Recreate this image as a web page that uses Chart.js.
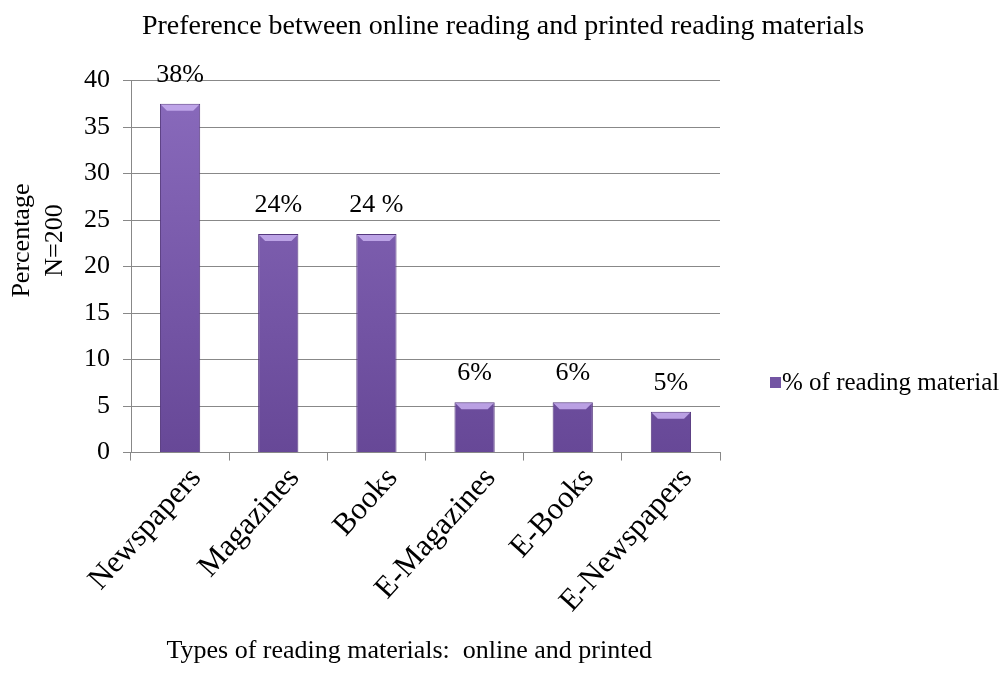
<!DOCTYPE html>
<html>
<head>
<meta charset="utf-8">
<script src="https://cdn.jsdelivr.net/npm/chart.js@4/dist/chart.umd.min.js"></script>
<style>
  body { margin: 0; background: #fff; }
  #wrap { width: 1004px; height: 675px; }
</style>
</head>
<body>
<div id="wrap"><canvas id="bar-chart"></canvas></div>
<script>
var categories = ["Newspapers", "Magazines", "Books", "E-Magazines", "E-Books", "E-Newspapers"];
var values = [37.5, 23.5, 23.5, 5.4, 5.4, 4.4];
var valueLabels = ["38%", "24%", "24 %", "6%", "6%", "5%"];
var yTicks = [0, 5, 10, 15, 20, 25, 30, 35, 40];
var seriesName = "% of reading material";

var serif = "'Liberation Serif', 'Times New Roman', serif";

// purple gradient for the bars, lighter at top
function barFill(context) {
  var chart = context.chart;
  var area = chart.chartArea;
  if (!area) return "#7355a3";
  var g = chart.ctx.createLinearGradient(0, area.top, 0, area.bottom);
  g.addColorStop(0, "#8a6bbd");
  g.addColorStop(1, "#674897");
  return g;
}

// value labels above bars + bevel highlight on bar tops
var barExtras = {
  id: "barExtras",
  afterDatasetsDraw: function (chart) {
    var ctx = chart.ctx;
    var meta = chart.getDatasetMeta(0);
    meta.data.forEach(function (bar, i) {
      var half = bar.width / 2;
      ctx.save();
      // top bevel
      ctx.fillStyle = "rgba(200,175,240,0.85)";
      ctx.beginPath();
      ctx.moveTo(bar.x - half + 1, bar.y + 1);
      ctx.lineTo(bar.x + half - 1, bar.y + 1);
      ctx.lineTo(bar.x + half - 7, bar.y + 7);
      ctx.lineTo(bar.x - half + 7, bar.y + 7);
      ctx.closePath();
      ctx.fill();
      ctx.font = "26px " + serif;
      ctx.fillStyle = "#000";
      ctx.textAlign = "center";
      ctx.textBaseline = "alphabetic";
      ctx.fillText(valueLabels[i], bar.x, bar.y - 22);
      ctx.restore();
    });
  }
};

// legend on the right side
var sideLegend = {
  id: "sideLegend",
  afterDraw: function (chart) {
    var ctx = chart.ctx;
    var x = 770, y = 383;
    ctx.save();
    ctx.fillStyle = "#7355a3";
    ctx.fillRect(x, y - 6, 11, 11);
    ctx.font = "25px " + serif;
    ctx.fillStyle = "#000";
    ctx.textAlign = "left";
    ctx.textBaseline = "middle";
    ctx.fillText(seriesName, x + 12, y);
    ctx.restore();
  }
};

new Chart("bar-chart", {
  type: "bar",
  data: {
    labels: categories,
    datasets: [
      {
        label: seriesName,
        data: values,
        backgroundColor: barFill,
        borderColor: "#56397f",
        borderWidth: 1,
        barPercentage: 0.41,
        categoryPercentage: 1
      }
    ]
  },
  options: {
    responsive: true,
    maintainAspectRatio: false,
    animation: false,
    layout: { padding: { top: 6, right: 0, bottom: 4, left: 2 } },
    plugins: {
      legend: { display: false },
      tooltip: { enabled: false },
      title: {
        display: true,
        text: "Preference between online reading and printed reading materials",
        color: "#000",
        font: { family: serif, size: 28, weight: "normal" },
        padding: { top: 4, bottom: 37 }
      }
    },
    scales: {
      x: {
        grid: { display: true, drawOnChartArea: false, offset: true, color: "#888", tickLength: 8 },
        border: { color: "#888" },
        ticks: {
          color: "#000",
          font: { family: serif, size: 31 },
          minRotation: 48,
          maxRotation: 48,
          labelOffset: 16,
          padding: 0
        },
        // let the first rotated label hang out to the left
        afterFit: function (axis) { axis.paddingLeft = 0; },
        title: {
          display: true,
          text: "Types of reading materials:  online and printed     ",
          color: "#000",
          font: { family: serif, size: 26 },
          padding: { top: 16 }
        }
      },
      y: {
        min: 0,
        max: 40,
        afterBuildTicks: function (axis) {
          axis.ticks = yTicks.map(function (v) { return { value: v }; });
        },
        grid: { color: "#888", tickLength: 8 },
        border: { color: "#888" },
        ticks: {
          color: "#000",
          font: { family: serif, size: 26 },
          padding: 13
        },
        title: {
          display: true,
          text: ["        Percentage", "        N=200"],
          color: "#000",
          font: { family: serif, size: 26, lineHeight: 1.25 },
          padding: { bottom: 0 }
        }
      },
      // empty axis that keeps the room on the right for the legend
      spacer: {
        type: "linear",
        position: "right",
        grid: { display: false },
        border: { display: false },
        ticks: { display: false },
        afterFit: function (axis) { axis.width = 284; }
      }
    }
  },
  plugins: [barExtras, sideLegend]
});
</script>
</body>
</html>
